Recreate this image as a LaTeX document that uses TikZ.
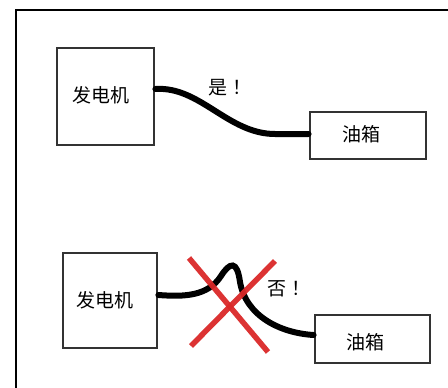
\documentclass[tikz,border=0pt]{standalone}
\usepackage{fontspec}
\setmainfont{Noto Sans CJK SC}
\begin{document}
\begin{tikzpicture}[x=1pt,y=-1pt,
  boxst/.style={draw=black!80,line width=2.8pt,fill=white,inner sep=0pt},
  txt/.style={font=\fontsize{19}{22}\selectfont},
  cable/.style={line width=6pt,line cap=round,black},
  lbl/.style={fill=white,inner sep=1pt,font=\fontsize{19}{22}\selectfont},
  cross/.style={line width=5.5pt,color={rgb,255:red,218;green,40;blue,40},opacity=0.95}]
\useasboundingbox (0,0) rectangle (448,388);
\clip (0,0) rectangle (448,388);
\draw[line width=2.2pt,black] (16,10) rectangle (470,410);
% top
\node[boxst,minimum width=97pt,minimum height=97pt] (gen1) at (105.5,96.5) {};
\node[txt] (gen1t) at (101,95) {发电机};
\node[boxst,minimum width=116pt,minimum height=47pt] (tank1) at (368,135.5) {};
\node[txt] (tank1t) at (361,134) {油箱};
\draw[cable] ([yshift=7.5pt]gen1.east) .. controls (200,86) and (228,134) .. (275,134) -- ([yshift=1.5pt]tank1.west);
\node[lbl] (yes) at (230,88) {是\hspace{5pt}！};
% bottom
\node[boxst,minimum width=94pt,minimum height=95pt] (gen2) at (110,300.5) {};
\node[txt] (gen2t) at (105,300) {发电机};
\node[boxst,minimum width=115pt,minimum height=48pt] (tank2) at (372.5,339) {};
\node[txt] (tank2t) at (365,342) {油箱};
\draw[cable] ([yshift=5.5pt]gen2.east) .. controls (185,297) and (208,296) .. (221,276)
  .. controls (230,262) and (237,260) .. (240,282)
  .. controls (246,316) and (280,333) .. ([yshift=4pt]tank2.west);
\node[lbl] (no) at (289,289) {否\hspace{5pt}！};
\draw[cross] (189,258) -- (268,352);
\draw[cross] (275,261) -- (191,346);
\end{tikzpicture}
\end{document}
